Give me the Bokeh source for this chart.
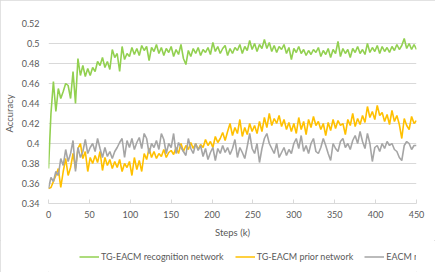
from bokeh.plotting import figure
from bokeh.layouts import column
from bokeh.models import (ColumnDataSource, FixedTicker, CustomJSTickFormatter,
                          Legend, LegendItem, Range1d)
from bokeh.embed import file_html
from bokeh.resources import INLINE

steps = list(range(0, 451, 3))

recognition = [
    .375, .430, .462, .432, .455, .445, .452, .460, .458, .445,
    .472, .440, .485, .468, .478, .467, .475, .468, .476, .472,
    .482, .478, .486, .476, .482, .474, .494, .486, .490, .472,
    .497, .484, .490, .487, .496, .489, .495, .488, .498, .493,
    .497, .483, .496, .492, .499, .490, .496, .488, .495, .491,
    .497, .487, .494, .489, .499, .485, .479, .493, .487, .495,
    .490, .496, .488, .494, .491, .496, .489, .501, .492, .497,
    .490, .495, .498, .488, .495, .490, .496, .493, .499, .490,
    .497, .493, .503, .494, .500, .492, .499, .495, .504, .495,
    .501, .492, .498, .491, .497, .494, .499, .490, .496, .484,
    .495, .491, .497, .490, .494, .488, .493, .489, .494, .491,
    .496, .487, .493, .489, .495, .486, .494, .490, .502, .487,
    .495, .490, .494, .486, .495, .491, .497, .490, .494, .489,
    .500, .491, .496, .492, .498, .490, .497, .492, .496, .491,
    .497, .493, .499, .494, .498, .505, .495, .500, .494, .499,
    .494,
]

prior = [
    .355, .356, .362, .368, .375, .356, .372, .385, .368, .376,
    .390, .375, .395, .400, .385, .392, .372, .386, .380, .388,
    .381, .392, .373, .386, .378, .384, .375, .382, .376, .384,
    .372, .380, .376, .382, .368, .386, .374, .383, .372, .390,
    .384, .395, .386, .392, .385, .390, .387, .394, .386, .391,
    .393, .389, .396, .390, .400, .392, .398, .394, .401, .395,
    .400, .394, .399, .396, .404, .398, .402, .396, .407, .401,
    .405, .411, .403, .412, .420, .408, .416, .410, .424, .407,
    .416, .409, .420, .412, .418, .410, .422, .412, .426, .416,
    .430, .418, .425, .420, .428, .417, .424, .414, .421, .412,
    .420, .410, .426, .414, .422, .409, .424, .416, .427, .418,
    .422, .414, .420, .408, .421, .413, .424, .415, .423, .418,
    .420, .409, .424, .418, .430, .417, .425, .419, .428, .421,
    .437, .426, .432, .424, .438, .428, .431, .422, .429, .419,
    .433, .422, .428, .419, .405, .425, .418, .414, .427, .420,
    .423,
]

eacm = [
    .355, .366, .362, .372, .368, .385, .378, .394, .382, .390,
    .403, .372, .396, .386, .392, .404, .390, .396, .400, .392,
    .405, .395, .386, .396, .387, .392, .385, .392, .396, .401,
    .405, .386, .403, .396, .405, .394, .401, .406, .395, .410,
    .405, .390, .400, .396, .403, .394, .410, .404, .390, .400,
    .396, .410, .390, .401, .396, .392, .388, .405, .395, .390,
    .400, .393, .398, .387, .395, .384, .391, .396, .383, .395,
    .390, .398, .391, .396, .389, .395, .404, .386, .396, .391,
    .385, .397, .410, .395, .390, .400, .381, .395, .405, .410,
    .400, .395, .390, .400, .386, .391, .396, .388, .394, .390,
    .400, .405, .395, .408, .392, .398, .390, .400, .405, .392,
    .390, .396, .405, .398, .390, .383, .400, .395, .392, .402,
    .405, .396, .400, .394, .403, .408, .400, .412, .402, .395,
    .410, .400, .382, .396, .398, .392, .400, .395, .402, .398,
    .400, .394, .392, .386, .383, .398, .402, .400, .394, .398,
    .398,
]

x_ticks = [0, 50, 100, 150, 200, 250, 300, 350, 400, 450]
y_ticks = [0.34, 0.36, 0.38, 0.40, 0.42, 0.44, 0.46, 0.48, 0.50, 0.52]
series_names = ["TG-EACM recognition network", "TG-EACM prior network", "EACM network"]
colors = ["#92D050", "#FFC000", "#A5A5A5"]
cols = ["rec", "pri", "eac"]

src = ColumnDataSource(dict(x=steps, rec=recognition, pri=prior, eac=eacm))

FONT = "Lato"
TXT = "#595959"

p = figure(width=435, height=240, output_backend="svg", toolbar_location=None,
           x_range=Range1d(0, 450), y_range=Range1d(0.34, 0.52),
           min_border_left=41, min_border_right=19, min_border_top=23,
           min_border_bottom=36)
p.outline_line_color = None
p.background_fill_color = "white"
p.border_fill_color = "white"

for col, c in zip(cols, colors):
    p.line("x", col, source=src, line_color=c, line_width=1.6)

# grid
p.xgrid.grid_line_color = None
p.ygrid.grid_line_color = "#D9D9D9"
p.ygrid.grid_line_width = 1
p.ygrid.ticker = FixedTicker(ticks=y_ticks)

# axes
p.xaxis.ticker = FixedTicker(ticks=x_ticks)
p.yaxis.ticker = FixedTicker(ticks=y_ticks)
p.yaxis.formatter = CustomJSTickFormatter(code="return String(parseFloat(tick.toFixed(2)));")
for ax in (p.xaxis, p.yaxis):
    ax.major_label_text_font = FONT
    ax.major_label_text_font_size = "9px"
    ax.major_label_text_color = TXT
    ax.axis_label_text_font = FONT
    ax.axis_label_text_font_size = "9.5px"
    ax.axis_label_text_font_style = "normal"
    ax.axis_label_text_color = TXT
    ax.minor_tick_line_color = None

p.xaxis.axis_label = "Steps (k)"
p.yaxis.axis_label = "Accuracy"
p.xaxis.axis_line_color = "#D9D9D9"
p.xaxis.major_tick_line_color = "#D9D9D9"
p.xaxis.major_tick_in = 4
p.xaxis.major_tick_out = 0
p.xaxis.major_label_standoff = 7
p.xaxis.axis_label_standoff = 6
p.yaxis.axis_line_color = None
p.yaxis.major_tick_line_color = None
p.yaxis.major_tick_in = 0
p.yaxis.major_tick_out = 0
p.yaxis.major_label_standoff = 9
p.yaxis.axis_label_standoff = 4

# legend strip below the chart (same series, drawn outside its visible range)
p2 = figure(width=435, height=32, output_backend="svg", toolbar_location=None,
            x_range=Range1d(1000, 1001), y_range=Range1d(10, 11),
            x_axis_type=None, y_axis_type=None,
            min_border_left=0, min_border_right=0, min_border_top=0,
            min_border_bottom=0)
p2.outline_line_color = None
p2.background_fill_color = "white"
p2.border_fill_color = "white"
proxies = [p2.line("x", col, source=src, line_color=c, line_width=1.6)
           for col, c in zip(cols, colors)]

legend = Legend(items=[LegendItem(label=n, renderers=[r]) for n, r in zip(series_names, proxies)],
                orientation="horizontal", location="left")
legend.label_text_font = FONT
legend.label_text_font_size = "9px"
legend.label_text_color = TXT
legend.glyph_width = 20
legend.glyph_height = 10
legend.label_standoff = 2
legend.spacing = 11
legend.padding = 1
legend.margin = 31
legend.border_line_color = None
legend.background_fill_alpha = 0
p2.add_layout(legend)

layout = column(p, p2, spacing=0,
                styles={"outline": "1px solid #D9D9D9", "outline-offset": "-1px"})

open("out.html", "w").write(file_html(layout, INLINE))
